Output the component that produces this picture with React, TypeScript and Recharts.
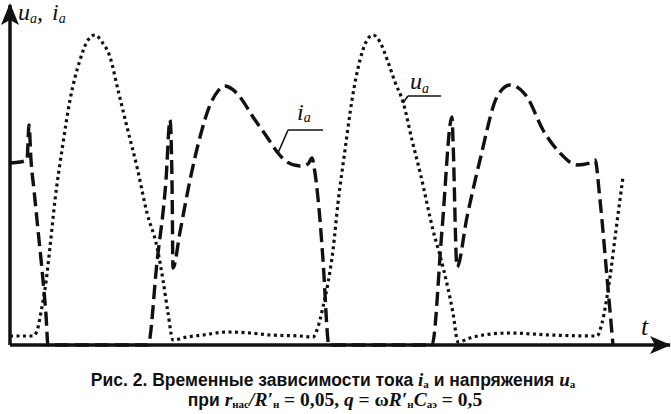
import React from 'react';
import { LineChart, Line, XAxis, YAxis, ReferenceLine } from 'recharts';

/** Анодное напряжение u_a: время и значения (усл. ед.) */
const UA_TIME = [0, 23, 27, 31, 36, 40, 45, 52, 60, 70, 78, 85, 92, 100, 108, 117, 127, 137, 147, 153, 158, 163, 177, 193, 217, 240, 260, 290, 303, 308, 313, 318, 323, 328, 335, 342, 350, 356, 363, 370, 378, 385, 393, 402, 410, 423, 433, 443, 448, 460, 473, 500, 540, 587, 592, 600, 606, 613];
const UA_VALUE = [9, 9, 14, 33, 63, 98, 145, 195, 245, 285, 305, 310, 303, 288, 255, 218, 178, 132, 98, 65, 32, 5, 8, 10, 13, 12, 10, 9, 8, 18, 38, 62, 95, 142, 195, 245, 285, 303, 310, 303, 283, 263, 243, 205, 173, 115, 78, 32, 3, 7, 10, 12, 10, 9, 22, 68, 115, 168];

/** Анодный ток i_a */
const IA_TIME = [0, 10, 17, 19, 21, 24, 28, 33, 36, 38, 138, 147, 156, 160, 162, 163, 170, 180, 190, 200, 208, 215, 222, 230, 243, 257, 268, 277, 290, 298, 302, 305, 310, 313, 319, 422, 432, 442, 443, 447, 457, 470, 487, 500, 517, 533, 550, 567, 580, 585, 590, 597, 603];
const IA_VALUE = [182, 183, 185, 220, 185, 155, 115, 65, 30, 0, 0, 83, 165, 225, 165, 77, 113, 165, 208, 240, 254, 259, 256, 248, 228, 208, 192, 183, 179, 181, 187, 172, 125, 85, 0, 0, 115, 228, 205, 78, 128, 185, 248, 260, 248, 215, 192, 180, 182, 185, 145, 68, 0];

const uaData = UA_TIME.map((t, i) => ({ t, v: UA_VALUE[i] }));
const iaData = IA_TIME.map((t, i) => ({ t, v: IA_VALUE[i] }));

const INK = '#111';
const SERIF = '"Liberation Serif", "Times New Roman", serif';
const SANS = '"Liberation Sans", Arial, sans-serif';

export default function App(): React.JSX.Element {
  return (
    <div style={{ position: 'absolute', left: 0, top: 0, width: 671, height: 414, background: '#fff' }}>
      <LineChart width={671} height={414} margin={{ top: 5, right: 1, left: 10, bottom: 69 }}>
        <XAxis type="number" dataKey="t" domain={[0, 660]} hide />
        <YAxis type="number" dataKey="v" domain={[0, 340]} hide />
        <ReferenceLine x={0} stroke={INK} strokeWidth={3.5} />
        <ReferenceLine y={0} stroke={INK} strokeWidth={3.5} />
        {/* выноски к подписям кривых */}
        <ReferenceLine segment={[{ x: 268, y: 192 }, { x: 278, y: 215 }]} stroke={INK} strokeWidth={1.6} />
        <ReferenceLine segment={[{ x: 278, y: 215 }, { x: 313, y: 215 }]} stroke={INK} strokeWidth={1.6} />
        <ReferenceLine segment={[{ x: 393, y: 242 }, { x: 398, y: 249 }]} stroke={INK} strokeWidth={1.6} />
        <ReferenceLine segment={[{ x: 398, y: 249 }, { x: 431, y: 249 }]} stroke={INK} strokeWidth={1.6} />
        <Line data={uaData} dataKey="v" type="monotone" stroke={INK} strokeWidth={3.2}
          strokeDasharray="3 3.5" dot={false} isAnimationActive={false} />
        <Line data={iaData} dataKey="v" type="monotone" stroke={INK} strokeWidth={3.4}
          strokeDasharray="14 6" dot={false} isAnimationActive={false} />
      </LineChart>
      <svg width={671} height={414} style={{ position: 'absolute', left: 0, top: 0, pointerEvents: 'none' }}>
        {/* стрелки осей */}
        <path d="M10,3 L1,25 L10,20 L19,25 Z" fill={INK} />
        <path d="M671,345 L650,336 L655,345 L650,354 Z" fill={INK} />
        <g fontFamily={SERIF} fontStyle="italic" fill={INK}>
          <text x={18} y={20} fontSize={24}>u<tspan fontSize={14} dy={3}>a</tspan><tspan dy={-3}>,</tspan></text>
          <text x={52} y={20} fontSize={24}>i<tspan fontSize={14} dy={3}>a</tspan></text>
          <text x={297} y={120} fontSize={24}>i<tspan fontSize={14} dy={2}>a</tspan></text>
          <text x={410} y={89} fontSize={24}>u<tspan fontSize={14} dy={4}>a</tspan></text>
          <text x={641} y={335} fontSize={26}>t</text>
        </g>
        <g fill={INK} fontWeight="bold" textAnchor="middle">
          <text x={333} y={386} fontFamily={SANS} fontSize={17.5}>
            Рис. 2. Временные зависимости тока{' '}
            <tspan fontFamily={SERIF} fontStyle="italic" fontSize={19}>i</tspan>
            <tspan fontFamily={SERIF} fontSize={11} dy={2}>а</tspan>
            <tspan dy={-2}> и напряжения </tspan>
            <tspan fontFamily={SERIF} fontStyle="italic" fontSize={19}>u</tspan>
            <tspan fontFamily={SERIF} fontSize={11} dy={2}>а</tspan>
          </text>
          <text x={335} y={406} fontFamily={SERIF} fontSize={19.5}>
            <tspan fontFamily={SANS} fontSize={17.5}>при </tspan>
            <tspan fontStyle="italic">r</tspan>
            <tspan fontSize={11} dy={2}>нас</tspan>
            <tspan fontStyle="italic" dy={-2}>/R′</tspan>
            <tspan fontSize={11} dy={2}>н</tspan>
            <tspan dy={-2}> = 0,05, </tspan>
            <tspan fontStyle="italic">q</tspan>
            <tspan> = ω</tspan>
            <tspan fontStyle="italic">R′</tspan>
            <tspan fontSize={11} dy={2}>н</tspan>
            <tspan fontStyle="italic" dy={-2}>C</tspan>
            <tspan fontSize={11} dy={2}>аэ</tspan>
            <tspan dy={-2}> = 0,5</tspan>
          </text>
        </g>
      </svg>
    </div>
  );
}
